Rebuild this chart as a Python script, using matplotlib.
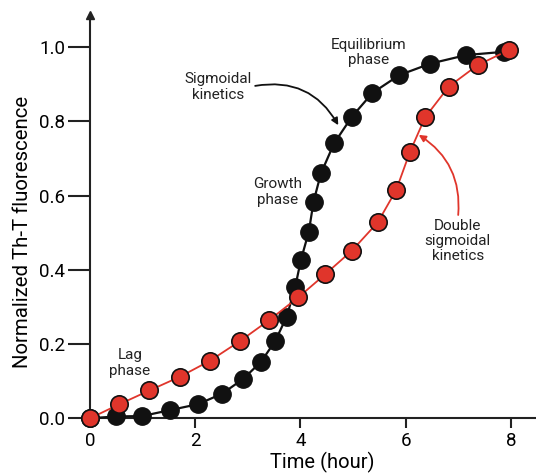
import matplotlib
matplotlib.use("Agg")
import matplotlib.pyplot as plt

plt.rcParams['font.family'] = ['Roboto', 'DejaVu Sans']

# Data
black_time = [0.0, 0.49, 0.99, 1.52, 2.05, 2.51, 2.91, 3.25, 3.52, 3.74, 3.90, 4.01,
              4.16, 4.25, 4.39, 4.64, 4.98, 5.37, 5.88, 6.47, 7.15, 7.88]
black_fluor = [0.0, 0.005, 0.006, 0.022, 0.038, 0.066, 0.106, 0.152, 0.208, 0.274, 0.353, 0.427,
               0.503, 0.584, 0.660, 0.741, 0.813, 0.877, 0.925, 0.956, 0.979, 0.988]
red_time = [0.0, 0.56, 1.13, 1.71, 2.28, 2.85, 3.41, 3.96, 4.47, 4.98, 5.47, 5.82,
            6.08, 6.37, 6.82, 7.37, 7.97]
red_fluor = [0.0, 0.038, 0.075, 0.112, 0.155, 0.208, 0.265, 0.326, 0.388, 0.452, 0.528, 0.615,
             0.717, 0.811, 0.894, 0.952, 0.993]
xticks = [0, 2, 4, 6, 8]
yticks = [0.0, 0.2, 0.4, 0.6, 0.8, 1.0]

RED = '#E0352B'
BLACK = '#111111'

fig = plt.figure(figsize=(5.36, 4.75), dpi=100)
ax = fig.add_axes([90/536, 1-418.3/475, 1-90/536, (418.3-15)/475])
ax.set_xlim(0, (536-90)/52.6)
ax.set_ylim(0, (418.3-15)/371)

ax.plot(black_time, black_fluor, '-', color=BLACK, lw=1.6, marker='o', ms=12.5,
        mfc=BLACK, mec=BLACK, mew=1.0, clip_on=False, zorder=3)
ax.plot(red_time, red_fluor, '-', color=RED, lw=1.3, marker='o', ms=12.5,
        mfc=RED, mec=BLACK, mew=1.2, clip_on=False, zorder=4)

for s in ['top', 'right']:
    ax.spines[s].set_visible(False)
for s in ['left', 'bottom']:
    ax.spines[s].set_linewidth(1.5)
    ax.spines[s].set_color('#222222')
    ax.spines[s].set_zorder(1)

# y axis arrow
ax.plot([0], [1.0], transform=ax.transAxes, marker='^', color='#222222', ms=6,
        clip_on=False)

ax.set_xticks(xticks)
ax.set_xticklabels([str(t) for t in xticks])
ax.set_yticks(yticks)
ax.set_yticklabels([f"{t:.1f}" for t in yticks])
ax.tick_params(axis='y', length=16, width=1.5, labelsize=13.5, pad=2, color='#222222')
ax.tick_params(axis='x', length=7, width=1.5, labelsize=13.5, pad=3, color='#222222')

ax.set_xlabel('Time (hour)', fontsize=14.5)
ax.set_ylabel('Normalized Th-T fluorescence', fontsize=14.7)
ax.xaxis.set_label_coords(0.52, -0.083)
ax.yaxis.set_label_coords(-0.130, 0.463)

tkw = dict(ha='center', va='center', fontsize=11, color='#222222', linespacing=1.1)
ax.text(2.44, 0.893, 'Sigmoidal\nkinetics', **tkw)
ax.text(5.30, 0.987, 'Equilibrium\nphase', **tkw)
ax.text(3.56, 0.610, 'Growth\nphase', **tkw)
ax.text(0.76, 0.149, 'Lag\nphase', **tkw)
ax.text(6.99, 0.478, 'Double\nsigmoidal\nkinetics', **tkw)

ax.annotate('', xy=(4.72, 0.790), xytext=(3.14, 0.896),
            arrowprops=dict(arrowstyle='-|>', color=BLACK, lw=1.3,
                            connectionstyle='arc3,rad=-0.35', mutation_scale=10,
                            shrinkA=0, shrinkB=0), zorder=5)
ax.annotate('', xy=(6.25, 0.764), xytext=(7.0, 0.548),
            arrowprops=dict(arrowstyle='-|>', color=RED, lw=1.3,
                            connectionstyle='arc3,rad=0.3', mutation_scale=10,
                            shrinkA=0, shrinkB=0), zorder=5)

fig.savefig('out.png', dpi=100)
